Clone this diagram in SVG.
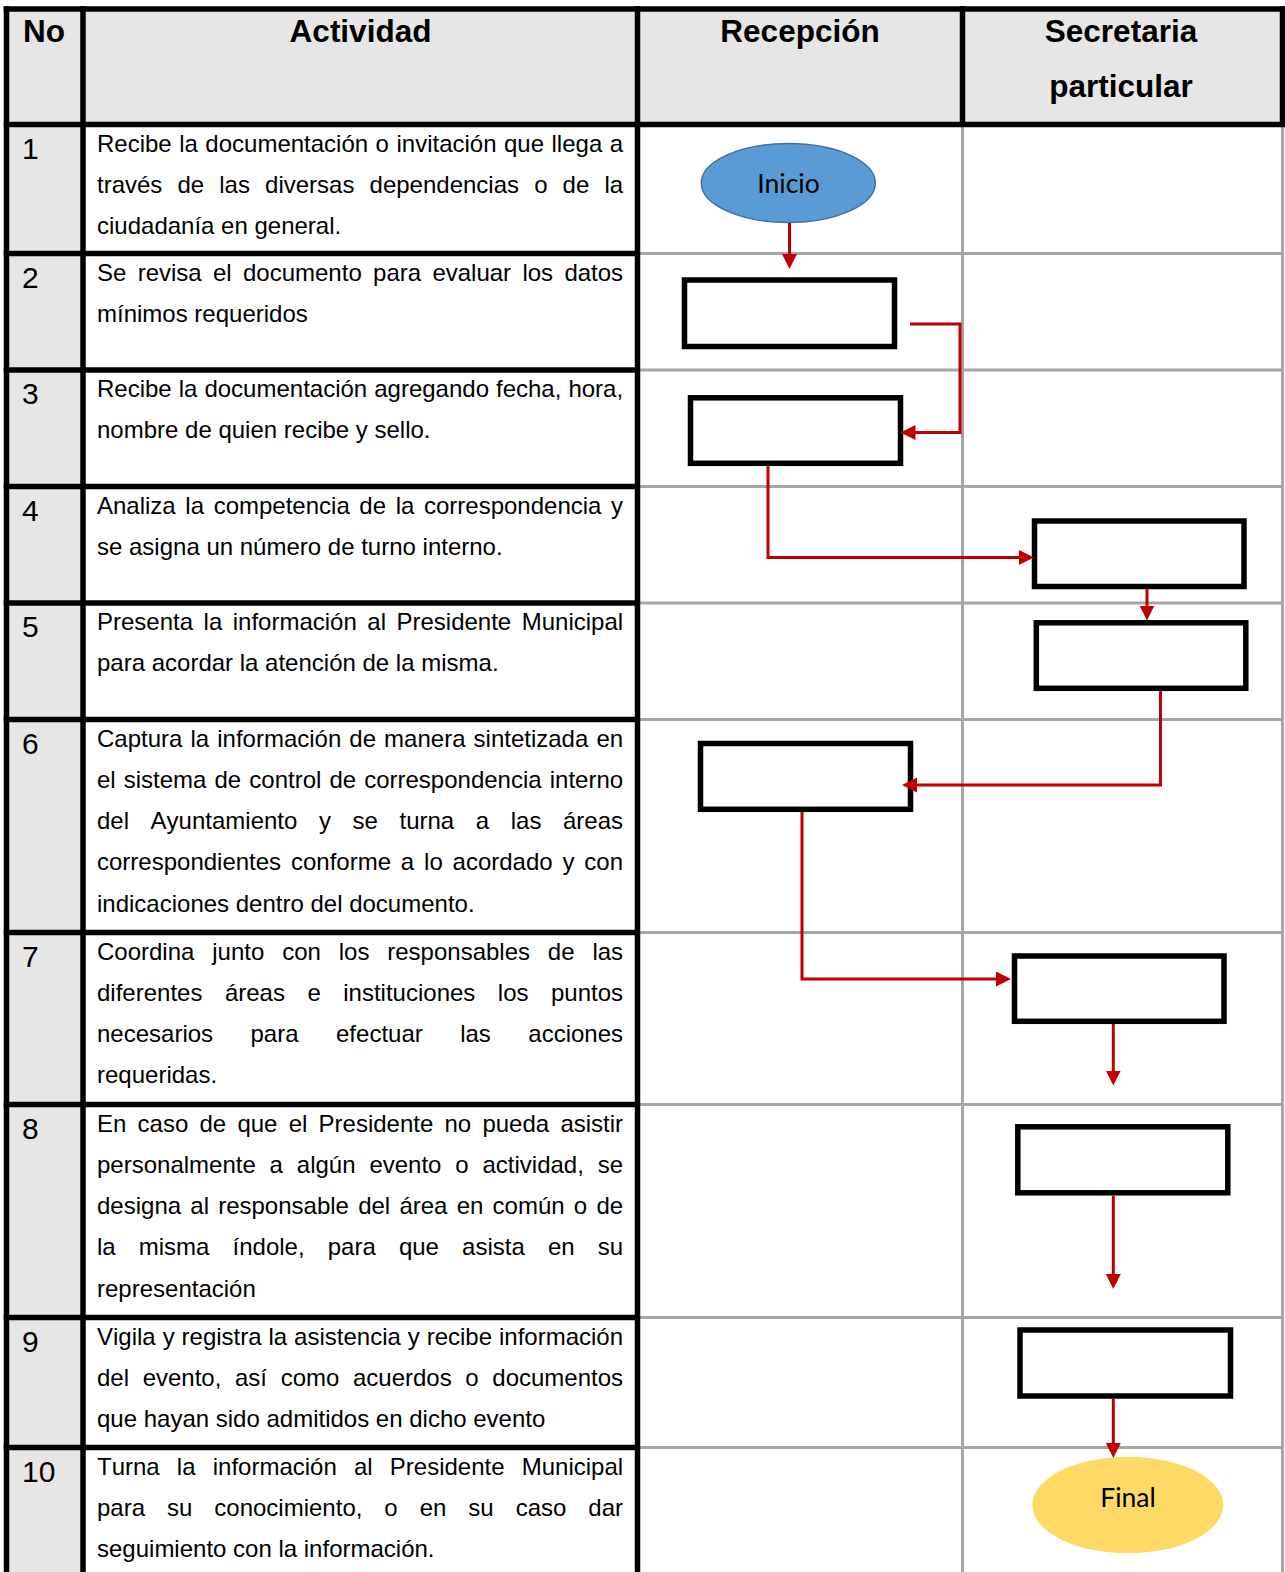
<svg xmlns="http://www.w3.org/2000/svg" width="1285" height="1572" viewBox="0 0 1285 1572">
  <defs>
    <style>
      .bg { fill: #ffffff; }
      .shade { fill: #e7e6e6; }
      .rule-k { stroke: #000000; stroke-width: 5.5; fill: none; }
      .rule-g { stroke: #a6a6a6; stroke-width: 3; fill: none; }
      .hdr { font-family: "Liberation Sans", Arial, sans-serif; font-weight: bold; font-size: 31.5px; fill: #000; font-kerning: none; }
      .num { font-family: "Liberation Sans", Arial, sans-serif; font-size: 30px; fill: #000; font-kerning: none; }
      .txt { font-family: "Liberation Sans", Arial, sans-serif; font-size: 24px; fill: #000; font-kerning: none; }
      .box { fill: #ffffff; stroke: #000000; stroke-width: 5.5; }
      .start { fill: #5b9bd5; stroke: #41719c; stroke-width: 1.5; }
      .end { fill: #ffd966; stroke: none; }
      .term { font-family: Lato, "Open Sans", sans-serif; font-size: 26.5px; fill: #000; text-anchor: middle; }
      .flow { stroke: #c00000; stroke-width: 3; fill: none; marker-end: url(#arrow); }
    </style>
    <marker id="arrow" markerUnits="userSpaceOnUse" markerWidth="16" markerHeight="16" refX="2" refY="7.5" orient="auto">
      <path d="M0,0 L15,7.5 L0,15 Z" fill="#c00000"/>
    </marker>
  </defs>

  <rect class="bg" x="0" y="0" width="1285" height="1572"/>

  <!-- table background: header band and number column -->
  <g id="table-fill">
    <rect class="shade" x="6.5" y="9" width="1276" height="115.5"/>
    <rect class="shade" x="6.5" y="124.5" width="76.5" height="1447.5"/>
  </g>

  <!-- table rules -->
  <g id="table-rules">
    <!-- light rules in the swimlane area -->
    <line class="rule-g" x1="962.5" y1="124.5" x2="962.5" y2="1572"/>
    <line class="rule-g" x1="1282.5" y1="124.5" x2="1282.5" y2="1572"/>
    <line class="rule-g" x1="637.5" y1="253.5" x2="1284" y2="253.5"/>
    <line class="rule-g" x1="637.5" y1="370" x2="1284" y2="370"/>
    <line class="rule-g" x1="637.5" y1="486.5" x2="1284" y2="486.5"/>
    <line class="rule-g" x1="637.5" y1="603" x2="1284" y2="603"/>
    <line class="rule-g" x1="637.5" y1="719.5" x2="1284" y2="719.5"/>
    <line class="rule-g" x1="637.5" y1="932.5" x2="1284" y2="932.5"/>
    <line class="rule-g" x1="637.5" y1="1104.5" x2="1284" y2="1104.5"/>
    <line class="rule-g" x1="637.5" y1="1317.5" x2="1284" y2="1317.5"/>
    <line class="rule-g" x1="637.5" y1="1447.5" x2="1284" y2="1447.5"/>
    <!-- heavy rules -->
    <line class="rule-k" x1="3.7" y1="9" x2="1285" y2="9"/>
    <line class="rule-k" x1="3.7" y1="124.5" x2="1285" y2="124.5"/>
    <line class="rule-k" x1="6.5" y1="6.2" x2="6.5" y2="1572"/>
    <line class="rule-k" x1="83" y1="6.2" x2="83" y2="1572"/>
    <line class="rule-k" x1="637.5" y1="6.2" x2="637.5" y2="1572"/>
    <line class="rule-k" x1="962.5" y1="6.2" x2="962.5" y2="124.5"/>
    <line class="rule-k" x1="1282.5" y1="6.2" x2="1282.5" y2="124.5"/>
    <line class="rule-k" x1="3.7" y1="253.5" x2="640" y2="253.5"/>
    <line class="rule-k" x1="3.7" y1="370" x2="640" y2="370"/>
    <line class="rule-k" x1="3.7" y1="486.5" x2="640" y2="486.5"/>
    <line class="rule-k" x1="3.7" y1="603" x2="640" y2="603"/>
    <line class="rule-k" x1="3.7" y1="719.5" x2="640" y2="719.5"/>
    <line class="rule-k" x1="3.7" y1="932.5" x2="640" y2="932.5"/>
    <line class="rule-k" x1="3.7" y1="1104.5" x2="640" y2="1104.5"/>
    <line class="rule-k" x1="3.7" y1="1317.5" x2="640" y2="1317.5"/>
    <line class="rule-k" x1="3.7" y1="1447.5" x2="640" y2="1447.5"/>
  </g>

  <!-- column headings -->
  <g id="header">
    <text class="hdr" x="23" y="42">No</text>
    <text class="hdr" x="360.5" y="42" text-anchor="middle">Actividad</text>
    <text class="hdr" x="800" y="42" text-anchor="middle">Recepción</text>
    <text class="hdr" x="1121" y="42" text-anchor="middle">Secretaria</text>
    <text class="hdr" x="1121" y="97" text-anchor="middle">particular</text>
  </g>

  <!-- activity rows: number + justified description -->
  <g id="row-1">
    <text class="num" x="22" y="158.5">1</text>
    <text class="txt" x="97" y="151.5" word-spacing="0.82">Recibe la documentación o invitación que llega a</text>
    <text class="txt" x="97" y="192.8" word-spacing="8.45">través de las diversas dependencias o de la</text>
    <text class="txt" x="97" y="234.1">ciudadanía en general.</text>
  </g>
  <g id="row-2">
    <text class="num" x="22" y="287.5">2</text>
    <text class="txt" x="97" y="280.5" word-spacing="4.64">Se revisa el documento para evaluar los datos</text>
    <text class="txt" x="97" y="321.8">mínimos requeridos</text>
  </g>
  <g id="row-3">
    <text class="num" x="22" y="404">3</text>
    <text class="txt" x="97" y="397" word-spacing="0.35">Recibe la documentación agregando fecha, hora,</text>
    <text class="txt" x="97" y="438.3">nombre de quien recibe y sello.</text>
  </g>
  <g id="row-4">
    <text class="num" x="22" y="520.5">4</text>
    <text class="txt" x="97" y="513.5" word-spacing="2.96">Analiza la competencia de la correspondencia y</text>
    <text class="txt" x="97" y="554.8">se asigna un número de turno interno.</text>
  </g>
  <g id="row-5">
    <text class="num" x="22" y="637">5</text>
    <text class="txt" x="97" y="630" word-spacing="3.83">Presenta la información al Presidente Municipal</text>
    <text class="txt" x="97" y="671.3">para acordar la atención de la misma.</text>
  </g>
  <g id="row-6">
    <text class="num" x="22" y="753.5">6</text>
    <text class="txt" x="97" y="746.5" word-spacing="1.41">Captura la información de manera sintetizada en</text>
    <text class="txt" x="97" y="787.8" word-spacing="1.41">el sistema de control de correspondencia interno</text>
    <text class="txt" x="97" y="829.1" word-spacing="14.92">del Ayuntamiento y se turna a las áreas</text>
    <text class="txt" x="97" y="870.4" word-spacing="3.18">correspondientes conforme a lo acordado y con</text>
    <text class="txt" x="97" y="911.7">indicaciones dentro del documento.</text>
  </g>
  <g id="row-7">
    <text class="num" x="22" y="966.5">7</text>
    <text class="txt" x="97" y="959.5" word-spacing="11.19">Coordina junto con los responsables de las</text>
    <text class="txt" x="97" y="1000.8" word-spacing="15.83">diferentes áreas e instituciones los puntos</text>
    <text class="txt" x="97" y="1042.1" word-spacing="30.79">necesarios para efectuar las acciones</text>
    <text class="txt" x="97" y="1083.4">requeridas.</text>
  </g>
  <g id="row-8">
    <text class="num" x="22" y="1138.5">8</text>
    <text class="txt" x="97" y="1131.5" word-spacing="4.55">En caso de que el Presidente no pueda asistir</text>
    <text class="txt" x="97" y="1172.8" word-spacing="7.18">personalmente a algún evento o actividad, se</text>
    <text class="txt" x="97" y="1214.1" word-spacing="2.55">designa al responsable del área en común o de</text>
    <text class="txt" x="97" y="1255.4" word-spacing="16.45">la misma índole, para que asista en su</text>
    <text class="txt" x="97" y="1296.7">representación</text>
  </g>
  <g id="row-9">
    <text class="num" x="22" y="1351.5">9</text>
    <text class="txt" x="97" y="1344.5" word-spacing="0.26">Vigila y registra la asistencia y recibe información</text>
    <text class="txt" x="97" y="1385.8" word-spacing="6.96">del evento, así como acuerdos o documentos</text>
    <text class="txt" x="97" y="1427.1">que hayan sido admitidos en dicho evento</text>
  </g>
  <g id="row-10">
    <text class="num" x="22" y="1481.5">10</text>
    <text class="txt" x="97" y="1474.5" word-spacing="10.5">Turna la información al Presidente Municipal</text>
    <text class="txt" x="97" y="1515.8" word-spacing="15.3">para su conocimiento, o en su caso dar</text>
    <text class="txt" x="97" y="1557.1">seguimiento con la información.</text>
  </g>

  <!-- flow shapes -->
  <g id="inicio">
    <ellipse class="start" cx="788.3" cy="183" rx="87" ry="39.5"/>
    <text class="term" x="788.5" y="193">Inicio</text>
  </g>
  <g id="step-2"><rect class="box" x="684.5" y="280" width="210" height="66.5"/></g>
  <g id="step-3"><rect class="box" x="690.5" y="397.8" width="210" height="65.5"/></g>
  <g id="step-4"><rect class="box" x="1034.5" y="521" width="209.5" height="65.5"/></g>
  <g id="step-5"><rect class="box" x="1036.3" y="622.8" width="209.5" height="65.5"/></g>
  <g id="step-6"><rect class="box" x="700.5" y="743.5" width="210" height="65.8"/></g>
  <g id="step-7"><rect class="box" x="1014.5" y="956" width="209.5" height="65.3"/></g>
  <g id="step-8"><rect class="box" x="1017.8" y="1126.8" width="210" height="66"/></g>
  <g id="step-9"><rect class="box" x="1020" y="1330" width="210.5" height="66"/></g>
  <g id="final">
    <ellipse class="end" cx="1127.8" cy="1505" rx="95.5" ry="48.3"/>
    <text class="term" x="1128" y="1507">Final</text>
  </g>

  <!-- connectors -->
  <g id="connectors">
    <path class="flow" d="M789.5,223 V256"/>
    <path class="flow" d="M910,324 H960 V432.5 H913.5"/>
    <path class="flow" d="M768,466 V557.5 H1021"/>
    <path class="flow" d="M1147,589 V607.5"/>
    <path class="flow" d="M1160.5,691 V785 H915"/>
    <path class="flow" d="M802,812 V979 H998"/>
    <path class="flow" d="M1113.3,1024 V1072.5"/>
    <path class="flow" d="M1113.3,1195.7 V1276"/>
    <path class="flow" d="M1113.3,1398.7 V1445"/>
  </g>
</svg>
